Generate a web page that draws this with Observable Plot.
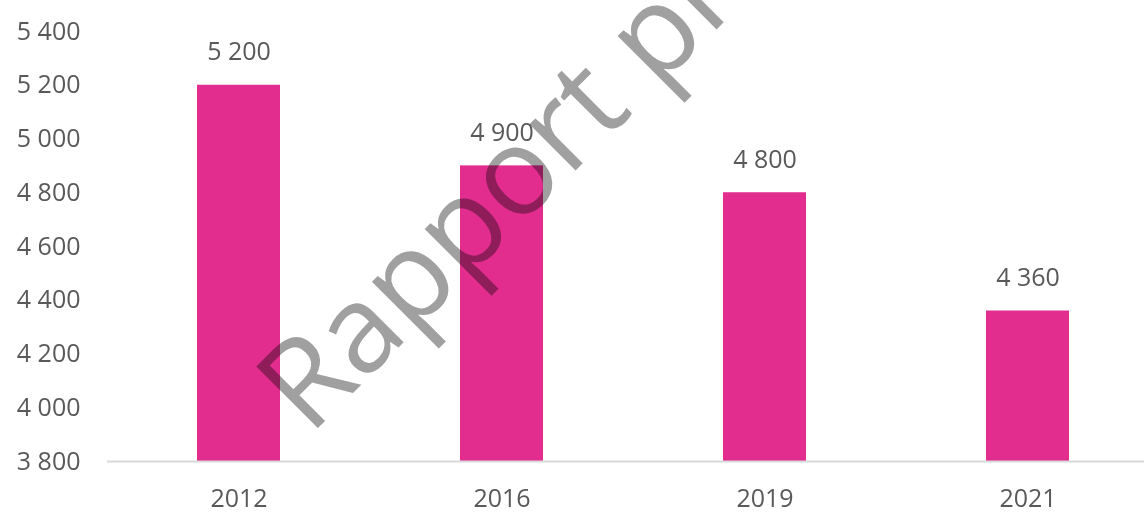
<!DOCTYPE html>
<html>
<head>
<meta charset="utf-8">
<script src="https://cdn.jsdelivr.net/npm/d3@7"></script>
<script src="https://cdn.jsdelivr.net/npm/@observablehq/plot@0.6"></script>
<style>
  html, body { margin: 0; padding: 0; background: #fff; }
  #chart svg { display: block; }
</style>
</head>
<body>
<div id="chart"></div>
<script>
const years = ["2012", "2016", "2019", "2021"];
const values = [5200, 4900, 4800, 4360];
const yTicks = [3800, 4000, 4200, 4400, 4600, 4800, 5000, 5200, 5400];
const watermark = "Rapport préliminaire";

const data = years.map((y, i) => ({year: y, value: values[i]}));
const fmt = v => d3.format(",")(v).replace(/,/g, " ");

const pink = "#e22d8f";
const textColor = "#595959";
const font = "'Open Sans', sans-serif";

const chart = Plot.plot({
  width: 1144,
  height: 512,
  marginLeft: 107,
  marginRight: -15,
  marginTop: 31,
  marginBottom: 51,
  style: {fontFamily: font, fontSize: "25px", color: textColor, background: "#fff", overflow: "hidden"},
  x: {domain: years, paddingInner: 0.684, paddingOuter: 0.342, label: null, tickSize: 0, tickPadding: 28},
  y: {domain: [3800, 5400], ticks: yTicks, tickFormat: fmt, label: null, tickSize: 0, tickPadding: 27},
  marks: [
    Plot.barY(data, {x: "year", y1: 3800, y2: "value", fill: pink}),
    Plot.ruleY([3800], {stroke: "#d9d9d9", strokeWidth: 2}),
    Plot.text([watermark], {
      frameAnchor: "bottom-left", dx: 202, dy: -25, text: d => d,
      rotate: -45, textAnchor: "start", lineAnchor: "bottom",
      fontSize: 122, fill: "#a0a0a0", mixBlendMode: "multiply"
    }),
    Plot.text(data, {x: "year", y: "value", text: d => fmt(d.value), dy: -33, fill: textColor, fontSize: 25})
  ]
});
document.getElementById("chart").appendChild(chart);
</script>
</body>
</html>
